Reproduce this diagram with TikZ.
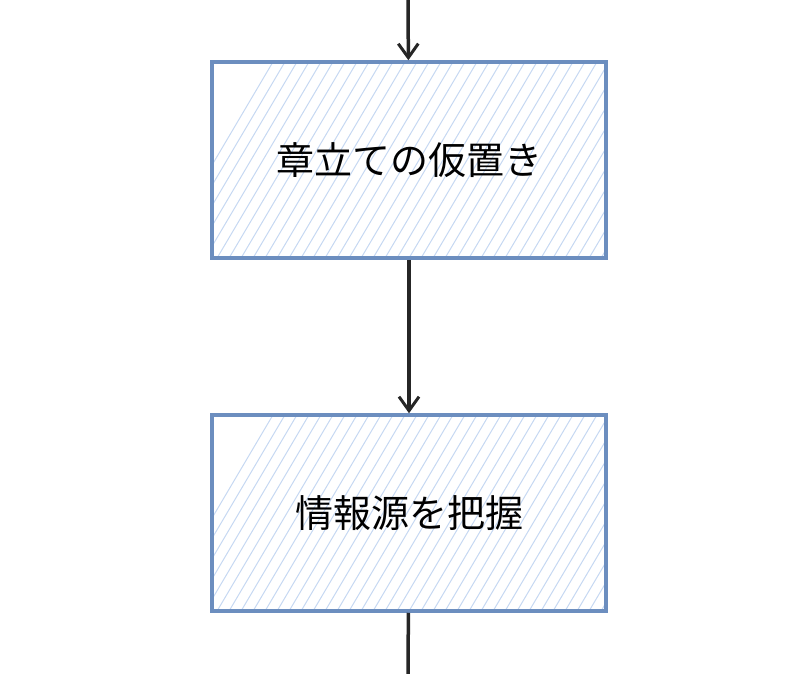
\documentclass[tikz,border=0pt]{standalone}
\usepackage{fontspec}
\newfontfamily\cjk{Noto Sans CJK JP}
\usetikzlibrary{arrows.meta}
\definecolor{boxline}{HTML}{6C8EBF}
\definecolor{hatch}{HTML}{C6D8F2}
\begin{document}
\begin{tikzpicture}[x=1pt,y=-1pt]
	 \tikzstyle{stage}=[draw=boxline,line width=3.5pt,minimum width=394pt,minimum height=196pt,
	   font=\cjk\fontsize{38}{44}\selectfont]
	 \tikzstyle{flow}=[draw,line width=3.5pt,black!85,-{Straight Barb[length=14pt,width=20pt,line width=3pt]}]
	 \useasboundingbox (0,0) rectangle (800,674);
	 \coordinate (top) at (408,0);
	 \coordinate (bottom) at (408,674);
	 % hatching behind the boxes
	 \foreach \cy in {160,513} {
	   \begin{scope}
	     \clip (212,\cy-98) rectangle (606,\cy+98);
	     \foreach \i in {0,...,44}
	       \draw[hatch,line width=1pt] (150+\i*12,\cy+110) -- (150+\i*12+130,\cy-110);
	   \end{scope}
	 }
	 \node[stage] (chapters) at (409,160) {章立ての仮置き};
	 \node[stage] (sources) at (409,513) {情報源を把握};
	 \draw[flow] (top) -- (chapters);
	 \draw[flow] (chapters) -- (sources);
	 \draw[line width=3.5pt,black!85] (sources) -- (bottom);
 \end{tikzpicture}
\end{document}
